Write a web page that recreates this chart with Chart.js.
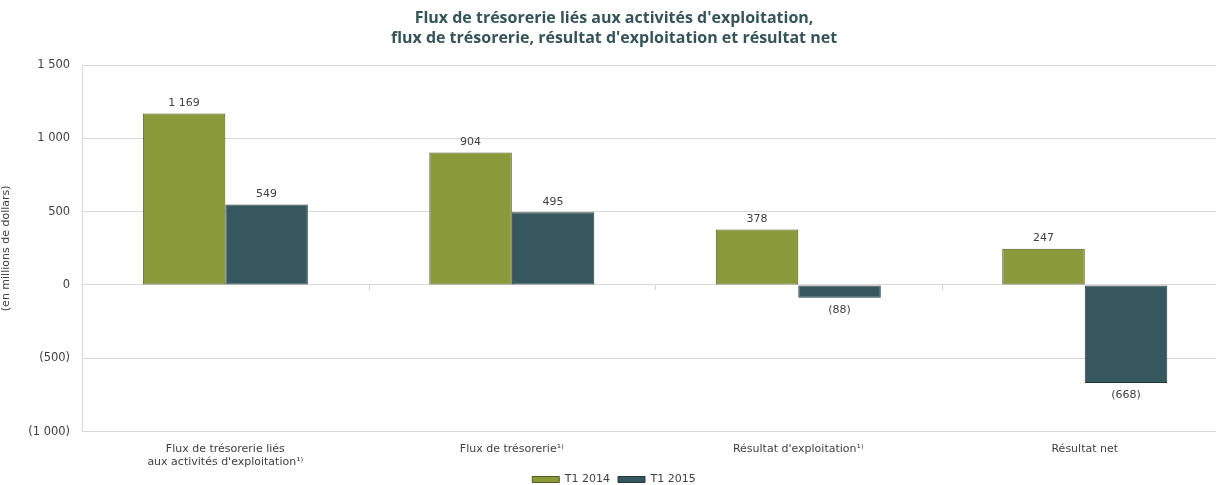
<!DOCTYPE html>
<html lang="fr">
<head>
<meta charset="utf-8">
<title>Flux de trésorerie</title>
<script src="https://cdn.jsdelivr.net/npm/chart.js@4"></script>
<style>
    html, body { margin: 0; padding: 0; background: #fff; overflow: hidden; }
    #wrap { width: 1232px; height: 485px; position: relative; }
</style>
</head>
<body>
<div id="wrap"><canvas id="cashChart"></canvas></div>
<script>
// Données (en millions de dollars)
const categories = [
    ['Flux de trésorerie liés', 'aux activités d\'exploitation¹⁾'],
    'Flux de trésorerie¹⁾',
    'Résultat d\'exploitation¹⁾',
    'Résultat net'
];
const seriesNames = ['T1 2014', 'T1 2015'];
const valuesT1_2014 = [1169, 904, 378, 247];
const valuesT1_2015 = [549, 495, -88, -668];

const GREEN = '#8a9a3b';
const TEAL = '#36575e';
const TEXT = '#404040';
const FONT = '"DejaVu Sans", Verdana, sans-serif';

// 1 500 / (500)
function formatNumber(v) {
    const s = Math.abs(v).toString().replace(/\B(?=(\d{3})+(?!\d))/g, ' ');
    return v < 0 ? '(' + s + ')' : s;
}

// valeurs au-dessus / en dessous des barres
const valueLabels = {
    id: 'valueLabels',
    afterDatasetsDraw(chart) {
        const ctx = chart.ctx;
        ctx.save();
        ctx.font = '11px ' + FONT;
        ctx.fillStyle = TEXT;
        ctx.textAlign = 'center';
        chart.data.datasets.forEach((ds, i) => {
            chart.getDatasetMeta(i).data.forEach((bar, j) => {
                const v = ds.data[j];
                if (v >= 0) {
                    ctx.textBaseline = 'bottom';
                    ctx.fillText(formatNumber(v), bar.x, bar.y - 5);
                } else {
                    ctx.textBaseline = 'top';
                    ctx.fillText(formatNumber(v), bar.x, bar.y + 7);
                }
            });
        });
        ctx.restore();
    }
};

// petites graduations sur la ligne du zéro
const zeroTicks = {
    id: 'zeroTicks',
    beforeDatasetsDraw(chart) {
        const x = chart.scales.x, y = chart.scales.y;
        const y0 = y.getPixelForValue(0);
        const step = (x.right - x.left) / categories.length;
        const ctx = chart.ctx;
        ctx.save();
        ctx.strokeStyle = '#d4d4d4';
        ctx.lineWidth = 1;
        ctx.beginPath();
        for (let i = 1; i < categories.length; i++) {
            const px = Math.round(x.left + i * step) + 0.5;
            ctx.moveTo(px, y0);
            ctx.lineTo(px, y0 + 5);
        }
        ctx.stroke();
        ctx.restore();
    }
};

// remonte la légende juste sous les libellés
const legendShift = {
    id: 'legendShift',
    afterLayout(chart) {
        const lg = chart.legend;
        if (lg) {
            lg.top -= 14;
            lg.bottom -= 14;
        }
    }
};

new Chart(document.getElementById('cashChart').getContext('2d'), {
    type: 'bar',
    data: {
        labels: categories,
        datasets: [{
            label: seriesNames[0],
            data: valuesT1_2014,
            backgroundColor: GREEN,
            borderColor: '#4f5a1f',
            borderWidth: 1,
            borderSkipped: false
        }, {
            label: seriesNames[1],
            data: valuesT1_2015,
            backgroundColor: TEAL,
            borderColor: '#233a40',
            borderWidth: 1,
            borderSkipped: false
        }]
    },
    options: {
        responsive: true,
        maintainAspectRatio: false,
        animation: false,
        layout: { padding: { left: 0, right: 4, top: 4, bottom: -24 } },
        datasets: {
            bar: { categoryPercentage: 0.576, barPercentage: 1 }
        },
        scales: {
            x: {
                grid: { display: false, drawTicks: false },
                border: { display: false },
                ticks: {
                    color: TEXT,
                    font: { family: FONT, size: 11 },
                    padding: 11,
                    maxRotation: 0
                }
            },
            y: {
                min: -1000,
                max: 1500,
                grid: { color: '#d9d9d9', drawTicks: false },
                border: { display: true, color: '#d9d9d9' },
                ticks: {
                    stepSize: 500,
                    color: TEXT,
                    font: { family: FONT, size: 11.5 },
                    padding: 12,
                    callback: v => formatNumber(v)
                },
                title: {
                    display: true,
                    text: '(en millions de dollars)',
                    color: TEXT,
                    font: { family: FONT, size: 11 },
                    padding: { top: 0, bottom: 3 }
                }
            }
        },
        plugins: {
            title: {
                display: true,
                text: ['Flux de trésorerie liés aux activités d\'exploitation,',
                       'flux de trésorerie, résultat d\'exploitation et résultat net'],
                color: '#35545a',
                font: { family: '"Open Sans", sans-serif', size: 16, weight: 'bold', lineHeight: 1.25 },
                padding: { top: 4, bottom: 17 }
            },
            legend: {
                position: 'bottom',
                labels: {
                    color: TEXT,
                    font: { family: FONT, size: 11 },
                    boxWidth: 27,
                    boxHeight: 6,
                    padding: 8
                }
            },
            tooltip: { enabled: false }
        }
    },
    plugins: [valueLabels, zeroTicks, legendShift]
});
</script>
</body>
</html>
